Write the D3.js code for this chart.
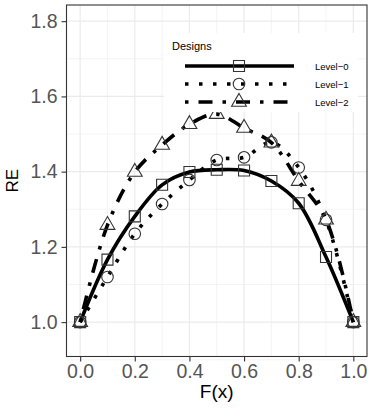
<!DOCTYPE html>
<html>
<head>
<meta charset="utf-8">
<script src="https://cdn.jsdelivr.net/npm/d3@7"></script>
<style>
  body { margin: 0; background: #fff; }
  text { font-family: "Liberation Sans", Arial, sans-serif; }
</style>
</head>
<body>
<svg id="chart"></svg>
<script>
let width = 374,
    height = 409;

let fx = [0, 0.1, 0.2, 0.3, 0.4, 0.5, 0.6, 0.7, 0.8, 0.9, 1.0];
let level0 = [1.0, 1.166, 1.281, 1.365, 1.399, 1.405, 1.403, 1.375, 1.316, 1.173, 1.0];
let level1 = [1.0, 1.12, 1.235, 1.314, 1.378, 1.431, 1.438, 1.478, 1.411, 1.272, 1.0];
let level2 = [1.0, 1.258, 1.399, 1.471, 1.526, 1.553, 1.516, 1.477, 1.375, 1.272, 1.0];
let seriesNames = ['Level\u22120', 'Level\u22121', 'Level\u22122'];
let xTicks = [0, 0.2, 0.4, 0.6, 0.8, 1.0];
let yTicks = [1.0, 1.2, 1.4, 1.6, 1.8];

let panel = {left: 66.5, right: 367, top: 5, bottom: 356.5};

let x = d3.scaleLinear().domain([-0.05, 1.05]).range([panel.left, panel.right]);
let y = d3.scaleLinear().domain([0.9086, 1.843]).range([panel.bottom, panel.top]);

let svg = d3.select('svg#chart')
    .attr('width', width)
    .attr('height', height);

// grid
let minorX = [0.1, 0.3, 0.5, 0.7, 0.9];
let minorY = [0.9, 1.1, 1.3, 1.5, 1.7];
let grid = svg.append('g');
grid.selectAll('line.minx').data(minorX).join('line')
    .attr('x1', d => x(d)).attr('x2', d => x(d))
    .attr('y1', panel.top).attr('y2', panel.bottom)
    .attr('stroke', '#ededed').attr('stroke-width', 0.6);
grid.selectAll('line.miny').data(minorY).join('line')
    .attr('y1', d => y(d)).attr('y2', d => y(d))
    .attr('x1', panel.left).attr('x2', panel.right)
    .attr('stroke', '#ededed').attr('stroke-width', 0.6);
grid.selectAll('line.majx').data(xTicks).join('line')
    .attr('x1', d => x(d)).attr('x2', d => x(d))
    .attr('y1', panel.top).attr('y2', panel.bottom)
    .attr('stroke', '#ebebeb').attr('stroke-width', 1.2);
grid.selectAll('line.majy').data(yTicks).join('line')
    .attr('y1', d => y(d)).attr('y2', d => y(d))
    .attr('x1', panel.left).attr('x2', panel.right)
    .attr('stroke', '#ebebeb').attr('stroke-width', 1.2);

// lines
let styles = [
    {data: level0, dash: null, shape: 'square'},
    {data: level1, dash: '3.5,10.5', shape: 'circle'},
    {data: level2, dash: '3.5,10,14,10', shape: 'triangle'}
];

let line = d3.line()
    .x((d, i) => x(fx[i]))
    .y(d => y(d))
    .curve(d3.curveCatmullRom.alpha(0.5));

for (let s of styles) {
    svg.append('path')
        .attr('d', line(s.data))
        .attr('fill', 'none')
        .attr('stroke', '#000')
        .attr('stroke-width', 3.6)
        .attr('stroke-dasharray', s.dash);
}

let symbols = {
    square: d3.symbol().type(d3.symbolSquare).size(121),
    circle: d3.symbol().type(d3.symbolCircle).size(105),
    triangle: d3.symbol().type(d3.symbolTriangle).size(95)
};

for (let s of styles) {
    svg.append('g').selectAll('path')
        .data(s.data)
        .join('path')
        .attr('transform', (d, i) => `translate(${x(fx[i])},${y(d)})`)
        .attr('d', symbols[s.shape]())
        .attr('fill', 'none')
        .attr('stroke', '#333')
        .attr('stroke-width', 1.1);
}

// panel border
svg.append('rect')
    .attr('x', panel.left).attr('y', panel.top)
    .attr('width', panel.right - panel.left)
    .attr('height', panel.bottom - panel.top)
    .attr('fill', 'none')
    .attr('stroke', '#333')
    .attr('stroke-width', 1.1);

// axes
let xAxis = svg.append('g')
    .attr('transform', `translate(0,${panel.bottom})`)
    .call(d3.axisBottom(x).tickValues(xTicks).tickFormat(d3.format('.1f')).tickSize(5).tickPadding(3));
let yAxis = svg.append('g')
    .attr('transform', `translate(${panel.left},0)`)
    .call(d3.axisLeft(y).tickValues(yTicks).tickFormat(d3.format('.1f')).tickSize(5).tickPadding(4));
for (let ax of [xAxis, yAxis]) {
    ax.select('.domain').remove();
    ax.selectAll('.tick line').attr('stroke', '#333').attr('stroke-width', 1.1);
    ax.selectAll('.tick text')
        .attr('fill', '#555')
        .style('font-size', '19.5px')
        .style('font-family', '"Liberation Sans", Arial, sans-serif');
}

svg.append('text')
    .attr('x', (panel.left + panel.right) / 2)
    .attr('y', 398)
    .attr('text-anchor', 'middle')
    .style('font-size', '19px')
    .text('F(x)');
svg.append('text')
    .attr('transform', `translate(18,${(panel.top + panel.bottom) / 2}) rotate(-90)`)
    .attr('text-anchor', 'middle')
    .style('font-size', '17px')
    .text('RE');

// legend
let legend = svg.append('g');
legend.append('rect')
    .attr('x', 164).attr('y', 33)
    .attr('width', 194).attr('height', 79)
    .attr('fill', '#fff');
legend.append('text')
    .attr('x', 172).attr('y', 50)
    .style('font-size', '11px')
    .text('Designs');
let keyY = [66, 84, 102];
styles.forEach((s, i) => {
    legend.append('line')
        .attr('x1', 185).attr('x2', 294)
        .attr('y1', keyY[i]).attr('y2', keyY[i])
        .attr('stroke', '#000')
        .attr('stroke-width', 3.6)
        .attr('stroke-dasharray', s.dash);
    legend.append('path')
        .attr('transform', `translate(239,${keyY[i]})`)
        .attr('d', symbols[s.shape]())
        .attr('fill', 'none')
        .attr('stroke', '#333')
        .attr('stroke-width', 1.1);
    legend.append('text')
        .attr('x', 315).attr('y', keyY[i] + 3.5)
        .style('font-size', '9.5px')
        .text(seriesNames[i]);
});
</script>
</body>
</html>
